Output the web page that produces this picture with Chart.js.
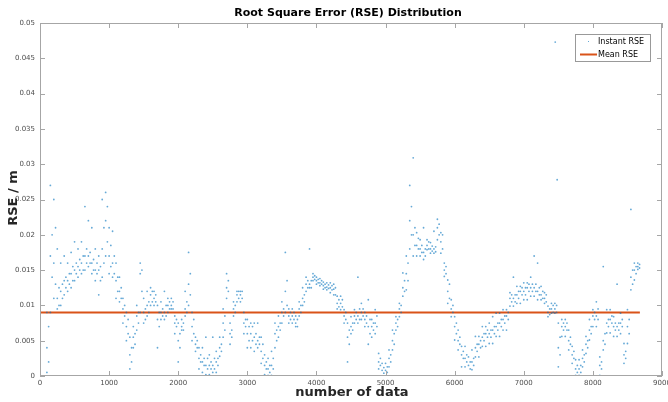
<!DOCTYPE html>
<html>
<head>
<meta charset="utf-8" />
<script src="https://cdn.jsdelivr.net/npm/chart.js@4.4.0/dist/chart.umd.min.js"></script>
<style>
  body { margin: 0; background: #fff; }
  canvas { display: block; }
</style>
</head>
<body>
<canvas id="rse" width="668" height="402"></canvas>
<script>
// bins of 50 samples, values in mm (low / middle / high of the cloud)
var binStep = 50;
var rseLow = [
  0,0,0.5,9,11,9.5,10,11.5,12,12.5,
  13.5,14,14.5,15,15.5,14.5,13.5,11.5,14,17,
  14.5,14,11,10.5,7.5,5,1,4,6.5,9,
  7.5,8.5,10,10,4,8,8,9,9.5,6,
  2,6.5,8.5,10,5,3.5,1,0.5,0.2,0.2,
  0.5,0.5,2.8,5.5,11,4.5,8.5,10.5,10.5,6,
  4,4,3.5,4,1.8,0.2,0.1,0.1,4,5.5,
  7.5,9,7.5,7.5,7,8.5,10,12,12.5,13.5,
  13,12.8,12.3,12.2,11.8,11.5,9.5,9.4,7.5,2,
  6,7.5,7.5,8,7,4.5,5.5,6,1,0,
  0,1.3,3.7,6.5,8.4,11.3,12.2,18,17,17,
  17,16.5,17.9,17.4,17.4,19.3,17.4,14.1,10.3,8.4,
  5.1,3.7,1.3,1.3,0,0.9,2.7,2.7,4.2,4.2,
  4.6,4.6,5.6,5.6,6.5,6.5,9.9,9.9,10.3,10.3,
  10.8,10.8,11.3,11.3,10.8,10.8,10.3,8.4,8.9,8.9,
  1.3,5.6,5.6,3.7,1.8,0.1,0.1,1.3,3.2,5.1,
  7,7,0.1,3.7,6.1,6.1,5.6,5.6,6,1.8,
  4.6,12.2,13.6,15.1
];
var rseMid = [
  0,0,4,17,16,11,12,13.5,13.5,14.5,
  15,15.5,16,17,17,16,15,15,18,22,
  17,16,13.5,12,9.5,7,3,5.5,8.5,14.5,
  9,10,11.5,11,8,9,9,10,10,7.5,
  5,7,9.5,13,7,4.5,2.5,2,1.5,1.5,
  1.5,2,4,7.5,12.5,6,9.5,11.5,11.5,7.5,
  6,6,5.5,5,3.5,1.5,1,1.5,6,7,
  9,12,8.5,8.5,7.5,9.5,11,13,13,14,
  13.5,13.2,12.8,12.6,12.5,12.3,10.3,10.3,8.5,5.5,
  7,8.5,8.5,9,8,7,7,7.5,2,0.8,
  0.8,2.5,5,7.5,9.5,12.5,14.5,22,20,18.5,
  18,17.5,18.5,18,18,21,19,15,12,9.5,
  7,5,3,2.5,1.5,2,4,4.5,5.5,6,
  6,6.5,7,7.5,8,8.5,11,11,11.5,12,
  12,12.5,12.5,12.5,12,11.5,11,9,9.5,9.5,
  4,7,7,5,3,1,1,2.5,4.5,6.5,
  8.5,8.5,1.5,5,7.5,8,7,7,7.5,3,
  7,14,15,15.5
];
var rseHigh = [
  0,0,9,27,25,18,16,17,16,17.5,
  19,18,19,24,22,21,18,17,25,26,
  21,20.5,16,14,11,9,5.5,7,10,16,
  11,12,12.5,12,10,10.5,12,11,11,8.5,
  7.5,8,12,17.5,9,5.5,4,4,5.5,3,
  5.5,3.5,5.5,9.5,14.5,7.5,10.5,12,12,9,
  8,7.5,7.5,7.5,5.5,3,2.5,3.5,7.5,8.5,
  10.5,17.5,9.5,9.5,8.5,10.5,12.5,14,18,14.5,
  14,13.8,13.3,13.2,13.2,13,11.3,11.3,9.4,7.5,
  8.4,9.4,14,10.3,9,10.8,8,9.4,3.2,1.8,
  1.8,3.7,6.5,8.4,10.3,14.6,17,27,30.9,20.3,
  19.3,21,19.3,18.9,20.5,22.2,20.3,16,13.6,10.8,
  8.4,6.5,4.2,4.2,2.7,3.7,5.6,5.6,7,7,
  7.5,8.4,8.9,8.9,9.4,9.4,11.8,14,12.7,12.7,
  13.2,13.2,14,17,16,12.7,11.8,9.9,10.3,10.3,
  7.5,8,8,6.5,4.2,2.3,2.3,3.7,5.6,8,
  9.4,10.5,2.7,15.5,9.4,9.4,8.4,13,8.9,4.6,
  9.4,23.6,16,16
];
// dense core of the cloud, read at the half-bin (bin + 25), mm
var coreLo = [
  0,0,2,14,13,10,11,12.5,13,13.5,
  14.5,15,15,16,16,15,14.5,13.5,16,19,
  15.5,14.5,12,11,8.5,6,2,4.5,7.5,12,
  8,9,10.5,10.5,7,8.5,8.5,9.5,9.5,7,
  4,6.5,9,11.5,6,4,2,1.5,1,1,
  1,1.5,3.5,6.5,12,5.5,9,11,11,7,
  5,5,4.5,4.5,2.5,1,0.5,1,5,6.5,
  8.5,10,8,8,7,9,10.5,12.5,12.5,13.7,
  13.2,13,12.5,12.4,12.2,11.5,9.8,9.8,8,4.5,
  6.5,8,8,8.5,7.5,6,6.5,7,1.5,0.4,
  0.5,2,4.5,7,9,12,13.5,20,18.5,18,
  17.5,17,18,17.7,17.6,20,18,14.5,11,9,
  6,4.5,2.5,2,1,1.5,3.5,4,5,5.5,
  5.5,6,6.5,7,7.5,8,10.5,10.5,11,11.5,
  11.5,12,12,12,11.5,11,10.5,8.7,9,9,
  3,6.5,6.5,4.5,2.5,0.5,0.5,2,4,6,
  8,8,1,4.5,7,7.5,6.5,6.5,7,2.5,
  6,13,14.5,15.3
];
var coreHi = [
  0,0,7,20,21,12.5,13,14,14.5,15.5,
  16,16.5,17,18,17.5,16.5,16,15.5,21,24,
  18.5,17,14,12.5,10,8,4,6,9,15,
  9.5,10.5,12,11.5,9,9.5,10,10.5,10.5,8,
  6,7.5,10.5,14.5,8,5,3,2.5,2.5,2,
  2.5,2.5,4.5,8.5,13.5,6.5,10,12,12,8,
  7,7,6,5.5,4.5,2,1.5,2.5,6.5,7.5,
  9.5,13.5,9,9,8,10,11.5,13.5,13.5,14.2,
  13.7,13.5,13,12.9,12.8,12.5,10.8,10.8,9,6.5,
  7.5,9,9.5,9.5,8.5,8,7.5,8.5,2.5,1.2,
  1.3,3,6,8,10,13.5,16,24,21,19.5,
  18.5,18,19,18.4,18.3,21.5,20,15.5,13,10,
  7.5,5.5,3.5,3,2,2.5,4.5,5,6,6.5,
  6.5,7,7.5,8,8.5,9,11.5,11.5,12,12.5,
  12.5,13,13,13,12.5,12,11.5,9.5,10,10,
  5.5,7.5,7.5,5.5,3.5,1.5,1.5,3,5,7,
  9,9.5,2,6,8,8.5,7.5,7.5,8,3.5,
  8,15,15.5,15.8
];
// stray points
var outlierX = [7455, 7483];
var outlierY = [47.3, 27.8];

var meanRSE = 0.009;
var meanStart = 0, meanEnd = 8680;

var xTicks = [0,1000,2000,3000,4000,5000,6000,7000,8000,9000];
var yTicks = [0,0.005,0.01,0.015,0.02,0.025,0.03,0.035,0.04,0.045,0.05];
var yTickLabels = ['0','0.005','0.01','0.015','0.02','0.025','0.03','0.035','0.04','0.045','0.05'];

var pts = [];
for (var i = 0; i < rseMid.length; i++) {
  var x = i * binStep;
  pts.push({x: x, y: rseLow[i] / 1000});
  pts.push({x: x, y: rseMid[i] / 1000});
  pts.push({x: x, y: rseHigh[i] / 1000});
  pts.push({x: x + binStep / 2, y: coreLo[i] / 1000});
  pts.push({x: x + binStep / 2, y: coreHi[i] / 1000});
}
for (var j = 0; j < outlierX.length; j++) pts.push({x: outlierX[j], y: outlierY[j] / 1000});

var FONT = '"DejaVu Sans", "Liberation Sans", sans-serif';
var BLUE = 'rgba(0,114,189,0.6)';
var ORANGE = '#D95319';

// axes box, inward ticks, labels, titles and legend, MATLAB style
var decor = {
  id: 'decor',
  afterDraw: function(chart) {
    var c = chart.ctx, a = chart.chartArea;
    var xs = chart.scales.x, ys = chart.scales.y;
    c.save();
    c.strokeStyle = '#a6a6a6';
    c.lineWidth = 1;
    c.strokeRect(a.left + 0.5, a.top + 0.5, a.right - a.left - 1, a.bottom - a.top - 1);
    c.beginPath();
    xTicks.forEach(function(t) {
      var px = Math.round(xs.getPixelForValue(t)) + 0.5;
      c.moveTo(px, a.bottom); c.lineTo(px, a.bottom - 5);
      c.moveTo(px, a.top); c.lineTo(px, a.top + 5);
    });
    yTicks.forEach(function(t) {
      var py = Math.round(ys.getPixelForValue(t)) + 0.5;
      c.moveTo(a.left, py); c.lineTo(a.left + 5, py);
      c.moveTo(a.right, py); c.lineTo(a.right - 5, py);
    });
    c.stroke();

    c.fillStyle = '#4d4d4d';
    c.font = '7px ' + FONT;
    c.textAlign = 'right'; c.textBaseline = 'middle';
    yTicks.forEach(function(t, k) {
      c.fillText(yTickLabels[k], a.left - 5, ys.getPixelForValue(t));
    });
    c.textAlign = 'center'; c.textBaseline = 'top';
    xTicks.forEach(function(t) {
      c.fillText(String(t), xs.getPixelForValue(t), a.bottom + 4);
    });

    c.fillStyle = '#000';
    c.font = 'bold 11px ' + FONT;
    c.textBaseline = 'middle';
    c.fillText('Root Square Error (RSE) Distribution', 348, 13);
    c.font = 'bold 13px ' + FONT;
    c.fillStyle = '#262626';
    c.fillText('number of data', 352, 393);
    c.save();
    c.translate(14, 198);
    c.rotate(-Math.PI / 2);
    c.fillText('RSE / m', 0, 0);
    c.restore();

    // legend
    c.fillStyle = '#fff';
    c.fillRect(575, 34, 75, 27);
    c.strokeStyle = '#999';
    c.strokeRect(575.5, 34.5, 75, 27);
    c.fillStyle = BLUE;
    c.fillRect(588, 41, 1, 1);
    c.strokeStyle = ORANGE; c.lineWidth = 2;
    c.beginPath(); c.moveTo(580, 54.5); c.lineTo(597, 54.5); c.stroke();
    c.fillStyle = '#000';
    c.font = '8px ' + FONT;
    c.textAlign = 'left';
    c.fillText('Instant RSE', 598, 41.5);
    c.fillText('Mean RSE', 598, 54.5);
    c.restore();
  }
};

new Chart(document.getElementById('rse'), {
  type: 'scatter',
  data: {
    datasets: [
      {
        label: 'Instant RSE',
        data: pts,
        pointRadius: 0.9,
        pointHoverRadius: 0.9,
        borderWidth: 0,
        backgroundColor: BLUE
      },
      {
        label: 'Mean RSE',
        type: 'line',
        data: [{x: meanStart, y: meanRSE}, {x: meanEnd, y: meanRSE}],
        borderColor: ORANGE,
        borderWidth: 2,
        pointRadius: 0,
        fill: false
      }
    ]
  },
  options: {
    responsive: false,
    animation: false,
    layout: { padding: { left: 40, right: 6, top: 23, bottom: 26 } },
    plugins: { legend: { display: false }, title: { display: false }, tooltip: { enabled: false } },
    scales: {
      x: {
        type: 'linear', min: 0, max: 9000,
        grid: { display: false }, border: { display: false },
        ticks: { display: false },
        afterFit: function(s) { s.height = 0; }
      },
      y: {
        type: 'linear', min: 0, max: 0.05,
        grid: { display: false }, border: { display: false },
        ticks: { display: false },
        afterFit: function(s) { s.width = 0; }
      }
    }
  },
  plugins: [decor]
});
</script>
</body>
</html>
